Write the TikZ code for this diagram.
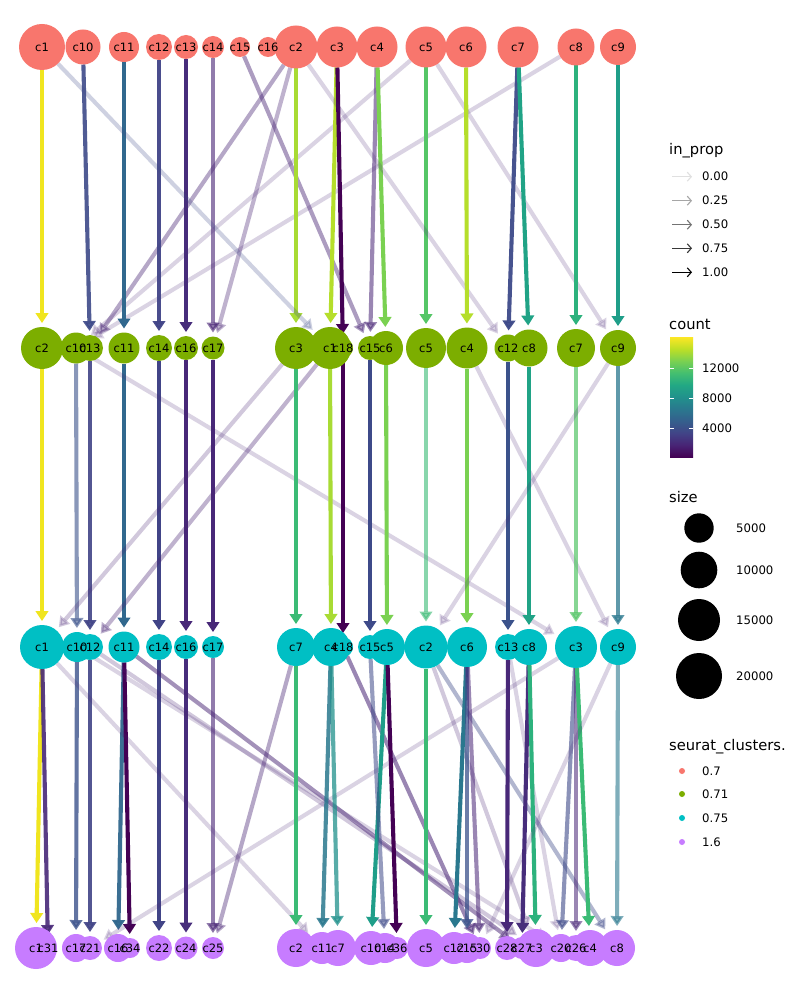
\documentclass[tikz,border=0pt]{standalone}
\usepackage{fontspec}
\setmainfont{DejaVu Sans}
\usetikzlibrary{arrows.meta}
\pgfdeclarelayer{bg}
\pgfsetlayers{bg,main}
\definecolor{ca}{HTML}{F8766D}
\definecolor{cb}{HTML}{7CAE00}
\definecolor{cc}{HTML}{00BFC4}
\definecolor{cd}{HTML}{C77CFF}
\definecolor{vy}{HTML}{F0E51F}
\definecolor{vyga}{HTML}{A8DB34}
\definecolor{vygb}{HTML}{B5DE2B}
\definecolor{vga}{HTML}{7AD151}
\definecolor{vgb}{HTML}{55C667}
\definecolor{vgc}{HTML}{3BBB75}
\definecolor{vgd}{HTML}{2DB27D}
\definecolor{vta}{HTML}{20A386}
\definecolor{vtb}{HTML}{1F9E89}
\definecolor{vtc}{HTML}{21918C}
\definecolor{vtd}{HTML}{2A788E}
\definecolor{vte}{HTML}{31688E}
\definecolor{vba}{HTML}{3B528B}
\definecolor{vbb}{HTML}{414487}
\definecolor{vbc}{HTML}{3E4A89}
\definecolor{vpa}{HTML}{472D7B}
\definecolor{vpb}{HTML}{482878}
\definecolor{vpc}{HTML}{482475}
\definecolor{vpd}{HTML}{440154}
% viridis stops
\definecolor{vA}{HTML}{440154}
\definecolor{vB}{HTML}{482475}
\definecolor{vC}{HTML}{414487}
\definecolor{vD}{HTML}{355F8D}
\definecolor{vE}{HTML}{2A788E}
\definecolor{vF}{HTML}{21918C}
\definecolor{vG}{HTML}{22A884}
\definecolor{vH}{HTML}{44BF70}
\definecolor{vI}{HTML}{7AD151}
\definecolor{vJ}{HTML}{BDDF26}
\definecolor{vK}{HTML}{FDE725}
\pgfdeclareverticalshading{viridisbar}{100bp}{color(0bp)=(vA); color(25bp)=(vA); color(30bp)=(vB); color(35bp)=(vC); color(40bp)=(vD); color(45bp)=(vE); color(50bp)=(vF); color(55bp)=(vG); color(60bp)=(vH); color(65bp)=(vI); color(70bp)=(vJ); color(75bp)=(vK); color(100bp)=(vK)}
\newcommand{\mk}[5]{\node[circ,fill=#5,minimum size={2*#4pt}] (#1) at (#2,#3) {};}
\newcommand{\mklab}[2]{\node[lbl] at (#1) {#2};}
\newcommand{\edg}[4]{\draw[edgeln,color=#3,opacity=#4] (#1) -- (#2);}
\begin{document}
\begin{tikzpicture}[x=1pt,y=-1pt,
  circ/.style={circle,inner sep=0pt,outer sep=0pt,draw=none},
  lbl/.style={font=\fontsize{11.5}{12}\selectfont,inner sep=0pt},
  edgeln/.style={line width=4.1pt,-{Triangle[length=10pt,width=12.5pt]},shorten >=4pt},
  legtitle/.style={anchor=base west,inner sep=0pt,font=\fontsize{14.7}{16}\selectfont},
  leglbl/.style={anchor=west,inner sep=0pt,font=\fontsize{11.7}{13}\selectfont},
  legarrow/.style={line width=1.1pt,-{Straight Barb[length=4pt,width=9pt]}}]
\useasboundingbox (0,0) rectangle (800,1000);
\begin{pgfonlayer}{bg}
\fill[white] (0,0) rectangle (800,1000);
\end{pgfonlayer}
% ---------- row 0.7
\mk{a1}{42}{47}{23}{ca}
\mk{a10}{83}{47}{17.5}{ca}
\mk{a11}{124}{47}{15}{ca}
\mk{a12}{159}{47}{13}{ca}
\mk{a13}{186}{47}{12}{ca}
\mk{a14}{213}{47}{11}{ca}
\mk{a15}{240}{47}{10}{ca}
\mk{a16}{268}{47}{10}{ca}
\mk{a2}{296}{47}{21.5}{ca}
\mk{a3}{337}{47}{20.5}{ca}
\mk{a4}{377}{47}{20.5}{ca}
\mk{a5}{426}{47}{20.5}{ca}
\mk{a6}{466}{47}{20.5}{ca}
\mk{a7}{518}{47}{20.5}{ca}
\mk{a8}{576}{47}{18.5}{ca}
\mk{a9}{618}{47}{18}{ca}
% ---------- row 0.71
\mk{b2}{42}{348}{21}{cb}
\mk{b10}{76}{348}{15.5}{cb}
\mk{b13}{90}{348}{13}{cb}
\mk{b11}{124}{348}{15.5}{cb}
\mk{b14}{159}{348}{13}{cb}
\mk{b16}{186}{348}{12}{cb}
\mk{b17}{213}{348}{11.5}{cb}
\mk{b3}{296}{348}{21}{cb}
\mk{b1}{330}{348}{21}{cb}
\mk{b18}{343}{348}{10}{cb}
\mk{b15}{370}{348}{12}{cb}
\mk{b6}{386}{348}{17}{cb}
\mk{b5}{426}{348}{20}{cb}
\mk{b4}{467}{348}{20.5}{cb}
\mk{b12}{508}{348}{13.5}{cb}
\mk{b8}{529}{348}{18.5}{cb}
\mk{b7}{576}{348}{19}{cb}
\mk{b9}{618}{348}{18}{cb}
% ---------- row 0.75
\mk{c1}{42}{647}{22}{cc}
\mk{c10}{77}{647}{15}{cc}
\mk{c12}{90}{647}{13}{cc}
\mk{c11}{124}{647}{15.5}{cc}
\mk{c14}{159}{647}{13}{cc}
\mk{c16}{186}{647}{12}{cc}
\mk{c17}{213}{647}{11}{cc}
\mk{c7}{296}{647}{19}{cc}
\mk{c4}{331}{647}{19}{cc}
\mk{c18}{343}{647}{10}{cc}
\mk{c15}{370}{647}{12}{cc}
\mk{c5}{387}{647}{18}{cc}
\mk{c2}{426}{647}{21.5}{cc}
\mk{c6}{467}{647}{20}{cc}
\mk{c13}{508}{647}{13}{cc}
\mk{c8}{529}{647}{18}{cc}
\mk{c3}{576}{647}{21}{cc}
\mk{c9}{618}{647}{18}{cc}
% ---------- row 1.6
\mk{d1}{36}{948}{21}{cd}
\mk{d31}{48}{948}{9}{cd}
\mk{d17}{76}{948}{14}{cd}
\mk{d21}{90}{948}{12}{cd}
\mk{d16}{118}{948}{14}{cd}
\mk{d34}{130}{948}{10}{cd}
\mk{d22}{159}{948}{13}{cd}
\mk{d24}{186}{948}{11.5}{cd}
\mk{d25}{213}{948}{11}{cd}
\mk{d2}{296}{948}{19}{cd}
\mk{d11}{322}{948}{16}{cd}
\mk{d7}{338}{948}{18}{cd}
\mk{d10}{371}{948}{17}{cd}
\mk{d14}{385}{948}{15}{cd}
\mk{d36}{397}{948}{11}{cd}
\mk{d5}{426}{948}{19}{cd}
\mk{d12}{454}{948}{16}{cd}
\mk{d15}{467}{948}{15}{cd}
\mk{d30}{480}{948}{11}{cd}
\mk{d28}{507}{948}{12}{cd}
\mk{d27}{522}{948}{11}{cd}
\mk{d3}{536}{948}{19}{cd}
\mk{d20}{561}{948}{14}{cd}
\mk{d26}{576}{948}{13}{cd}
\mk{d4}{590}{948}{18}{cd}
\mk{d8}{617}{948}{18}{cd}
% ---------- edges
\begin{pgfonlayer}{bg}
% 0.7 -> 0.71
\edg{a1}{b2}{vy}{1}
\edg{a10}{b13}{vbc}{0.9}
\edg{a2}{b13}{vpc}{0.4}
\edg{a5}{b10}{vpc}{0.2}
\edg{a8}{b10}{vpc}{0.2}
\edg{a2}{b17}{vpc}{0.35}
\edg{a11}{b11}{vte}{1}
\edg{a12}{b14}{vbb}{0.95}
\edg{a13}{b16}{vpa}{1}
\edg{a14}{b17}{vpc}{0.6}
\edg{a15}{b15}{vpc}{0.45}
\edg{a4}{b15}{vpc}{0.55}
\edg{a2}{b3}{vyga}{1}
\edg{a3}{b1}{vygb}{1}
\edg{a3}{b18}{vpd}{1}
\edg{a4}{b6}{vga}{1}
\edg{a1}{b1}{vbc}{0.25}
\edg{a5}{b5}{vgb}{1}
\edg{a5}{b9}{vpc}{0.2}
\edg{a2}{b12}{vpc}{0.2}
\edg{a6}{b4}{vygb}{1}
\edg{a7}{b12}{vbc}{0.95}
\edg{a7}{b8}{vta}{1}
\edg{a8}{b7}{vgd}{1}
\edg{a9}{b9}{vtb}{1}
% 0.71 -> 0.75
\edg{b2}{c1}{vy}{1}
\edg{b10}{c10}{vba}{0.6}
\edg{b13}{c12}{vbb}{0.9}
\edg{b11}{c11}{vte}{1}
\edg{b14}{c14}{vbb}{1}
\edg{b16}{c16}{vpb}{1}
\edg{b17}{c17}{vpb}{1}
\edg{b10}{c3}{vpc}{0.2}
\edg{b3}{c1}{vpc}{0.25}
\edg{b1}{c12}{vpc}{0.35}
\edg{b3}{c7}{vgc}{1}
\edg{b1}{c4}{vyga}{1}
\edg{b18}{c18}{vpd}{1}
\edg{b15}{c15}{vbc}{1}
\edg{b6}{c5}{vga}{1}
\edg{b5}{c2}{vgc}{0.6}
\edg{b4}{c6}{vga}{1}
\edg{b4}{c9}{vpc}{0.2}
\edg{b12}{c13}{vba}{1}
\edg{b8}{c8}{vta}{1}
\edg{b7}{c3}{vgb}{0.7}
\edg{b9}{c9}{vtd}{0.75}
\edg{b9}{c2}{vpc}{0.2}
% 0.75 -> 1.6
\edg{c1}{d1}{vy}{1}
\edg{c1}{d31}{vpb}{0.9}
\edg{c10}{d17}{vba}{0.8}
\edg{c12}{d21}{vbb}{0.9}
\edg{c11}{d16}{vte}{0.95}
\edg{c11}{d34}{vpd}{1}
\edg{c14}{d22}{vbb}{1}
\edg{c16}{d24}{vpa}{1}
\edg{c17}{d25}{vpc}{0.6}
\edg{c7}{d25}{vpc}{0.4}
\edg{c1}{d11}{vpc}{0.2}
\edg{c3}{d21}{vpc}{0.2}
\edg{c10}{d20}{vpc}{0.2}
\edg{c12}{d3}{vpc}{0.25}
\edg{c11}{d27}{vpc}{0.5}
\edg{c7}{d2}{vgc}{1}
\edg{c4}{d11}{vtd}{0.85}
\edg{c4}{d7}{vtc}{0.75}
\edg{c18}{d30}{vpc}{0.55}
\edg{c5}{d10}{vtb}{1}
\edg{c15}{d14}{vbc}{0.55}
\edg{c5}{d36}{vpd}{1}
\edg{c2}{d5}{vgc}{1}
\edg{c2}{d3}{vpc}{0.25}
\edg{c2}{d8}{vbc}{0.4}
\edg{c6}{d12}{vtd}{1}
\edg{c6}{d15}{vba}{0.75}
\edg{c6}{d30}{vpc}{0.55}
\edg{c13}{d28}{vpb}{1}
\edg{c13}{d20}{vpc}{0.2}
\edg{c8}{d27}{vpa}{1}
\edg{c8}{d3}{vgd}{1}
\edg{c3}{d20}{vbc}{0.6}
\edg{c3}{d26}{vpc}{0.55}
\edg{c3}{d4}{vgc}{1}
\edg{c9}{d8}{vtd}{0.6}
\edg{c9}{d30}{vpc}{0.2}
\end{pgfonlayer}
% ---------- labels
\mklab{a1}{c1}\mklab{a10}{c10}\mklab{a11}{c11}\mklab{a12}{c12}\mklab{a13}{c13}
\mklab{a14}{c14}\mklab{a15}{c15}\mklab{a16}{c16}\mklab{a2}{c2}\mklab{a3}{c3}
\mklab{a4}{c4}\mklab{a5}{c5}\mklab{a6}{c6}\mklab{a7}{c7}\mklab{a8}{c8}\mklab{a9}{c9}
\mklab{b2}{c2}\mklab{b10}{c10}\mklab{b13}{c13}\mklab{b11}{c11}\mklab{b14}{c14}
\mklab{b16}{c16}\mklab{b17}{c17}\mklab{b3}{c3}\mklab{b1}{c1}\mklab{b18}{c18}
\mklab{b15}{c15}\mklab{b6}{c6}\mklab{b5}{c5}\mklab{b4}{c4}\mklab{b12}{c12}
\mklab{b8}{c8}\mklab{b7}{c7}\mklab{b9}{c9}
\mklab{c1}{c1}\mklab{c10}{c10}\mklab{c12}{c12}\mklab{c11}{c11}\mklab{c14}{c14}
\mklab{c16}{c16}\mklab{c17}{c17}\mklab{c7}{c7}\mklab{c4}{c4}\mklab{c18}{c18}
\mklab{c15}{c15}\mklab{c5}{c5}\mklab{c2}{c2}\mklab{c6}{c6}\mklab{c13}{c13}
\mklab{c8}{c8}\mklab{c3}{c3}\mklab{c9}{c9}
\mklab{d1}{c1}\mklab{d31}{c31}\mklab{d17}{c17}\mklab{d21}{c21}\mklab{d16}{c16}
\mklab{d34}{c34}\mklab{d22}{c22}\mklab{d24}{c24}\mklab{d25}{c25}\mklab{d2}{c2}
\mklab{d11}{c11}\mklab{d7}{c7}\mklab{d10}{c10}\mklab{d14}{c14}\mklab{d36}{c36}
\mklab{d5}{c5}\mklab{d12}{c12}\mklab{d15}{c15}\mklab{d30}{c30}\mklab{d28}{c28}
\mklab{d27}{c27}\mklab{d3}{c3}\mklab{d20}{c20}\mklab{d26}{c26}\mklab{d4}{c4}
\mklab{d8}{c8}
% ---------- legend: in_prop
\node[legtitle] (tip) at (669,155) {in\_prop};
\foreach \yy/\cl/\tx in {176.7/12/0.00,200.7/35/0.25,224.7/55/0.50,248.3/78/0.75,272.3/100/1.00}{
  \draw[legarrow,color=black!\cl] (672,\yy) -- (692,\yy);
  \node[leglbl] at (702,\yy) {\tx};
}
% ---------- legend: count
\node[legtitle] (tcount) at (669,329) {count};
\shade[shading=viridisbar] (670,337) rectangle (693,457);
\foreach \yy/\tx in {368/12000,398/8000,428/4000}{
  \draw[white,line width=0.6pt] (670,\yy) -- (674,\yy) (689,\yy) -- (693,\yy);
  \node[leglbl] at (702,\yy) {\tx};
}
% ---------- legend: size
\node[legtitle] (tsize) at (669,502) {size};
\foreach \yy/\rr/\tx in {528/14.7/5000,570/18.3/10000,620/21/15000,676/23/20000}{
  \fill[black] (699,\yy) circle[radius=\rr pt];
  \node[leglbl] at (736,\yy) {\tx};
}
% ---------- legend: seurat_clusters.
\node[legtitle] (tseu) at (669,750) {seurat\_clusters.};
\foreach \yy/\cl/\tx in {771/ca/0.7,794/cb/0.71,818/cc/0.75,842/cd/1.6}{
  \fill[\cl] (682,\yy) circle[radius=3pt];
  \node[leglbl] at (702,\yy) {\tx};
}
\end{tikzpicture}
\end{document}
